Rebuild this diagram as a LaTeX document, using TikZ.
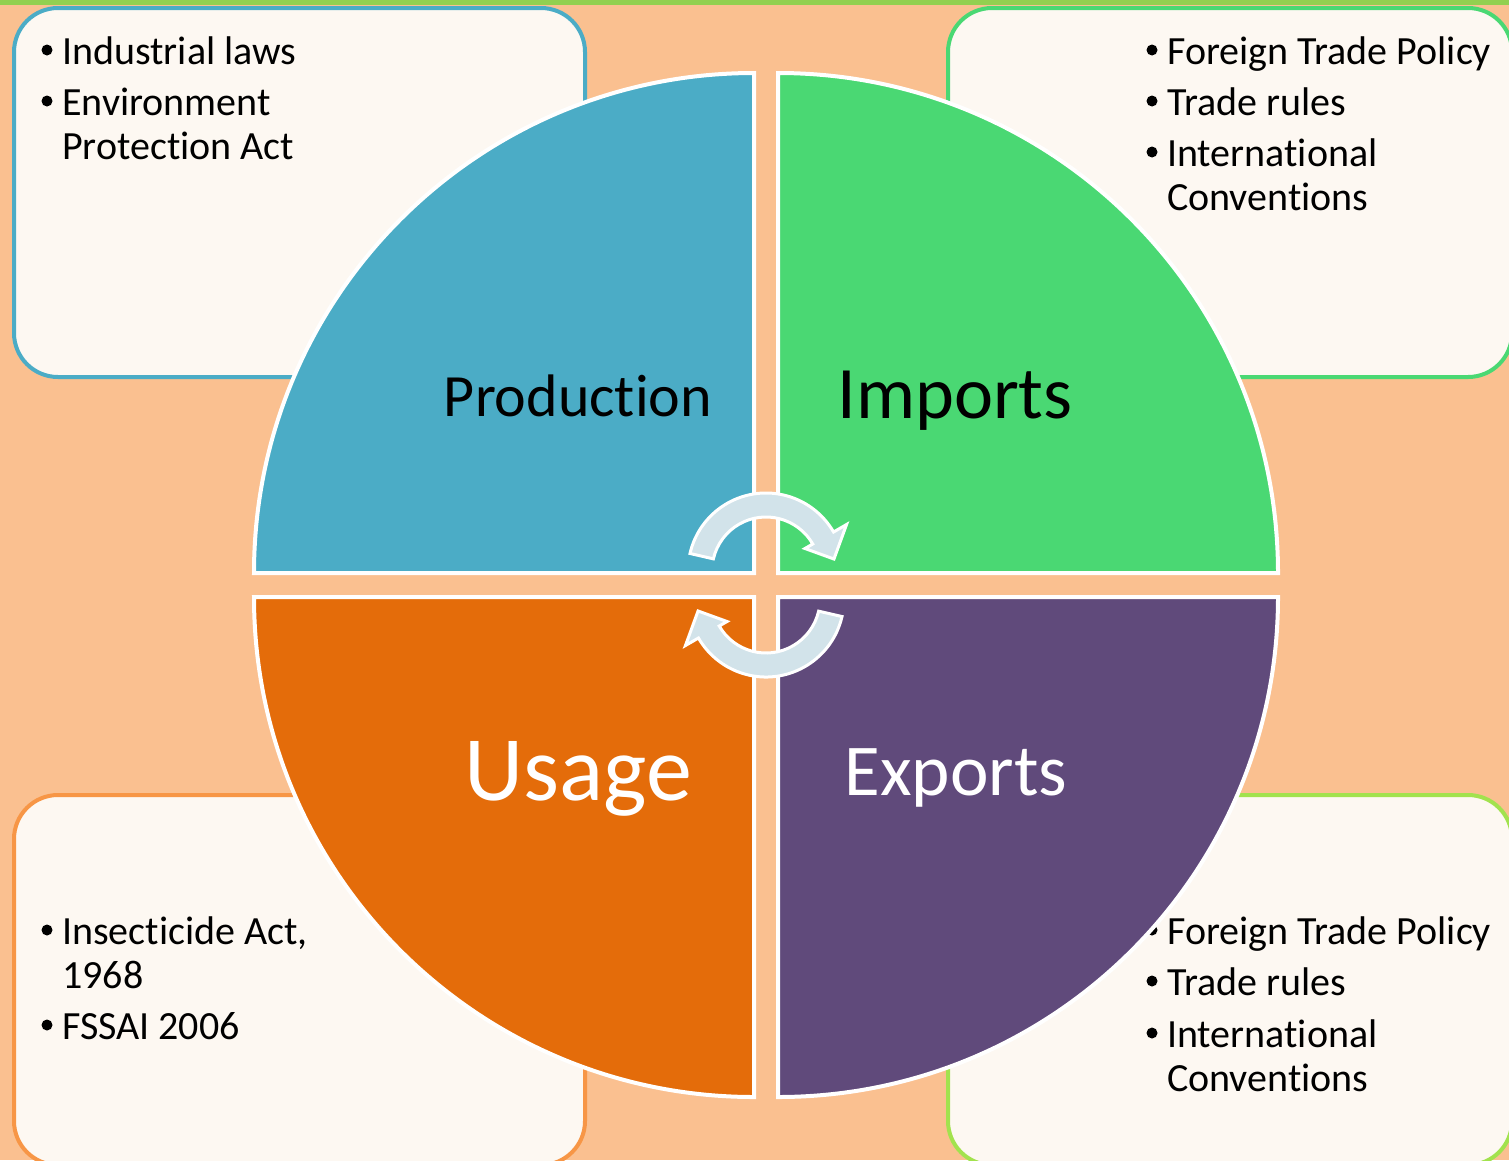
\documentclass[tikz,border=0pt]{standalone}
\usepackage{fontspec}
\setmainfont[Ligatures={NoCommon,NoContextual,NoRequired}]{Carlito}
\definecolor{bgc}{HTML}{FAC090}
\definecolor{topbar}{HTML}{92D050}
\definecolor{boxfill}{HTML}{FDF8F2}
\definecolor{prodc}{HTML}{4BACC6}
\definecolor{impc}{HTML}{4AD873}
\definecolor{usec}{HTML}{E46C0A}
\definecolor{expc}{HTML}{604A7B}
\definecolor{arrc}{HTML}{D2E3EA}
\definecolor{blb}{HTML}{F79646}
\definecolor{brb}{HTML}{A2E24E}
\begin{document}
\begin{tikzpicture}[x=1pt,y=-1pt,
  infobox/.style={draw, line width=4pt, fill=boxfill, rounded corners=44pt, inner sep=0pt},
  item/.style={anchor=base west, inner sep=0pt, font=\fontsize{40}{44}\selectfont, text=black},
  quad/.style={draw=white, line width=4pt, line join=miter},
  cyc/.style={fill=arrc, draw=white, line width=3pt, line join=miter},
  biglabel/.style={anchor=base, inner sep=0pt}]
\useasboundingbox (0,0) rectangle (1509,1160);
\fill[bgc] (0,0) rectangle (1509,1160);
\fill[topbar] (0,0) rectangle (1509,5);

% corner boxes
\node[infobox, draw=prodc, minimum width=571pt, minimum height=369pt] (tlbox) at (299.5,192.5) {};
\node[infobox, draw=impc, minimum width=564pt, minimum height=369pt] (trbox) at (1230,192.5) {};
\node[infobox, draw=blb, minimum width=571pt, minimum height=370pt] (blbox) at (299.5,980) {};
\node[infobox, draw=brb, minimum width=564pt, minimum height=370pt] (brbox) at (1230,980) {};

% bullets and texts
\fill (47,50) circle (5.5);
\node[item] (tl1) at (62,64) {Industrial laws};
\fill (47,101) circle (5.5);
\node[item] (tl2) at (62,115) {Environment};
\node[item] (tl3) at (62,159) {Protection Act};

\fill (1152,50) circle (5.5);
\node[item] (tr1) at (1167,64) {Foreign Trade Policy};
\fill (1152,101) circle (5.5);
\node[item] (tr2) at (1167,115) {Trade rules};
\fill (1152,152) circle (5.5);
\node[item] (tr3) at (1167,166) {International};
\node[item] (tr4) at (1167,210) {Conventions};

\fill (47,930) circle (5.5);
\node[item] (bl1) at (62,944) {Insecticide Act,};
\node[item] (bl2) at (62,988) {1968};
\fill (47,1025) circle (5.5);
\node[item] (bl3) at (62,1039) {FSSAI 2006};

\fill (1152,930) circle (5.5);
\node[item] (br1) at (1167,944) {Foreign Trade Policy};
\fill (1152,981) circle (5.5);
\node[item] (br2) at (1167,995) {Trade rules};
\fill (1152,1033) circle (5.5);
\node[item] (br3) at (1167,1047) {International};
\node[item] (br4) at (1167,1091) {Conventions};

% quadrants
\coordinate (ctl) at (754,573);
\coordinate (ctr) at (778,573);
\coordinate (cbr) at (778,597);
\coordinate (cbl) at (754,597);
\filldraw[quad, fill=prodc] (ctl) -- ++(-500,0) arc[start angle=180, end angle=270, radius=500] -- cycle;
\filldraw[quad, fill=impc] (ctr) -- ++(0,-500) arc[start angle=270, end angle=360, radius=500] -- cycle;
\filldraw[quad, fill=expc] (cbr) -- ++(500,0) arc[start angle=0, end angle=90, radius=500] -- cycle;
\filldraw[quad, fill=usec] (cbl) -- ++(0,500) arc[start angle=90, end angle=180, radius=500] -- cycle;

% labels
\node[biglabel, font=\fontsize{60}{66}\selectfont, text=black] (prod) at (578,416) {Production};
\node[biglabel, font=\fontsize{74}{80}\selectfont, text=black] (imp) at (955,418) {Imports};
\node[biglabel, font=\fontsize{92}{100}\selectfont, text=white] (use) at (578,800) {Usage};
\node[biglabel, font=\fontsize{73}{80}\selectfont, text=white] (exp) at (956,795) {Exports};

% circular arrows
\begin{scope}[shift={(766,571)}]
\filldraw[cyc] (193:78) arc[start angle=193, end angle=330, radius=78] -- (330:93) -- (350:69) -- (330:45) -- (330:54) arc[start angle=330, end angle=193, radius=54] -- cycle;
\end{scope}
\begin{scope}[shift={(766,599)}]
\filldraw[cyc] (13:78) arc[start angle=13, end angle=150, radius=78] -- (150:93) -- (170:69) -- (150:45) -- (150:54) arc[start angle=150, end angle=13, radius=54] -- cycle;
\end{scope}
\end{tikzpicture}
\end{document}
